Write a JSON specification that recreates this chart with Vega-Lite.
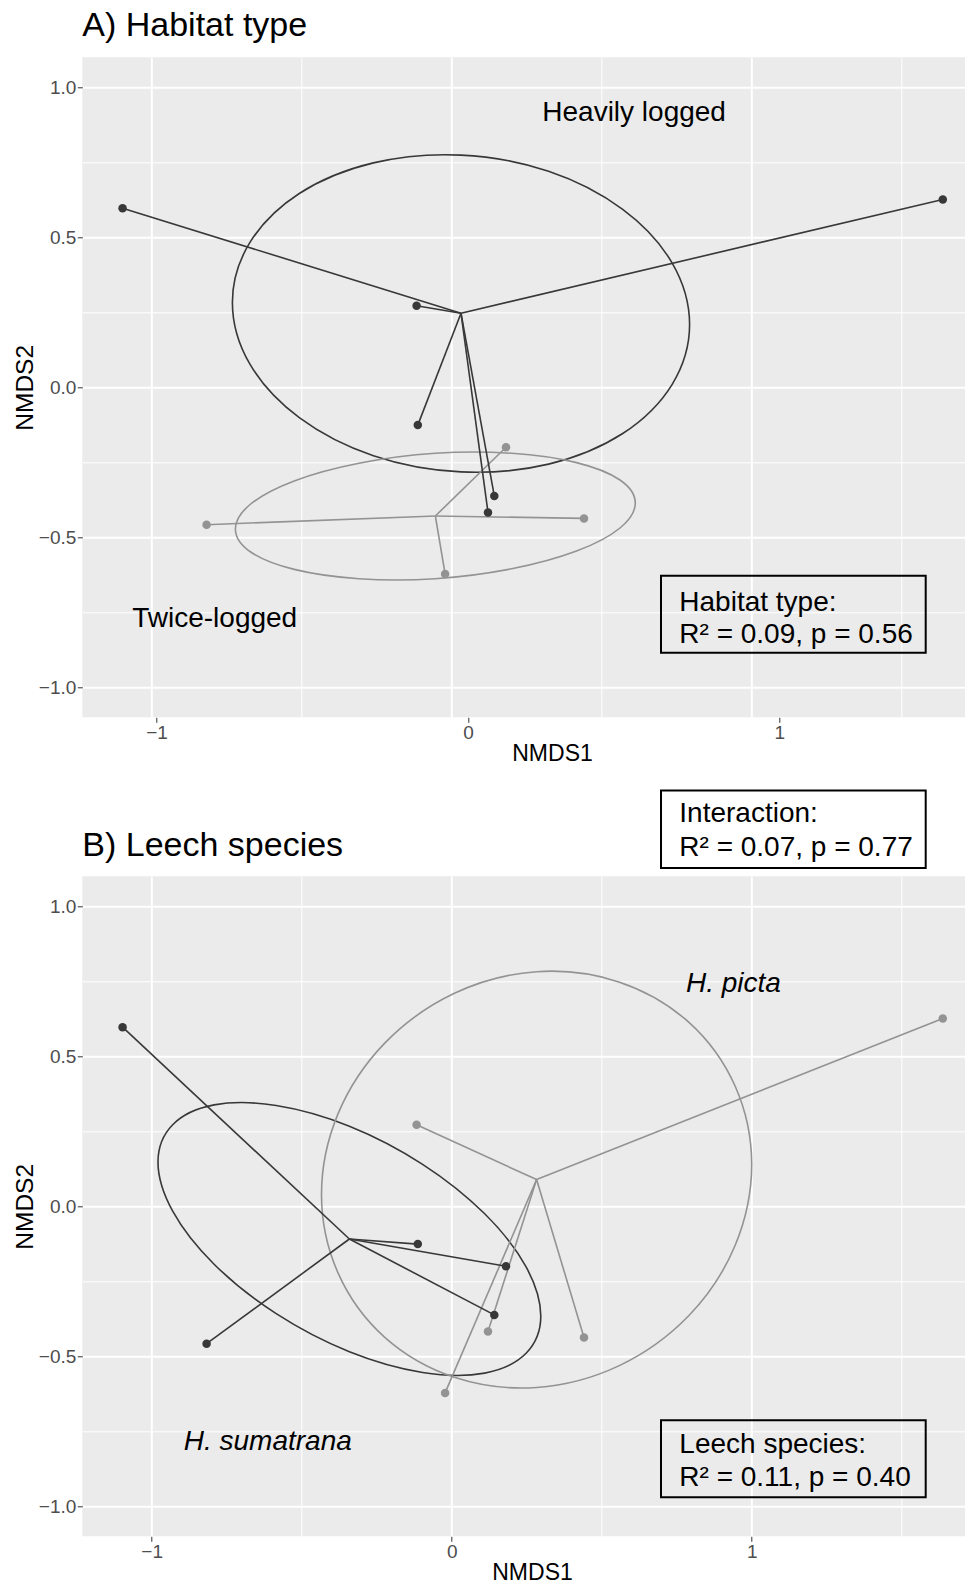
{
  "$schema": "https://vega.github.io/schema/vega-lite/v6.json",
  "autosize": {"type": "none"},
  "padding": {"left": 82.3, "top": 57.3, "right": 882.7, "bottom": 1524.7},
  "background": "#FFFFFF",
  "datasets": {
    "pts": [
      {"id": 1, "x": -1.097, "y": 0.597, "habitat": "Heavily logged", "species": "H. sumatrana"},
      {"id": 2, "x": -0.117, "y": 0.272, "habitat": "Heavily logged", "species": "H. picta"},
      {"id": 3, "x": 1.637, "y": 0.626, "habitat": "Heavily logged", "species": "H. picta"},
      {"id": 4, "x": -0.113, "y": -0.126, "habitat": "Heavily logged", "species": "H. sumatrana"},
      {"id": 5, "x": -0.817, "y": -0.458, "habitat": "Twice-logged", "species": "H. sumatrana"},
      {"id": 6, "x": -0.022, "y": -0.622, "habitat": "Twice-logged", "species": "H. picta"},
      {"id": 7, "x": 0.181, "y": -0.2, "habitat": "Twice-logged", "species": "H. sumatrana"},
      {"id": 8, "x": 0.142, "y": -0.362, "habitat": "Heavily logged", "species": "H. sumatrana"},
      {"id": 9, "x": 0.121, "y": -0.417, "habitat": "Heavily logged", "species": "H. picta"},
      {"id": 10, "x": 0.441, "y": -0.437, "habitat": "Twice-logged", "species": "H. picta"}
    ],
    "centA": [
      {"group": "Heavily logged", "cx": 0.031, "cy": 0.247},
      {"group": "Twice-logged", "cx": -0.0545, "cy": -0.429}
    ],
    "centB": [
      {"group": "H. sumatrana", "cx": -0.341, "cy": -0.109},
      {"group": "H. picta", "cx": 0.283, "cy": 0.089}
    ],
    "ellA": [
      {"group": "Heavily logged", "i": 0, "x": 0.793, "y": 0.209},
      {"group": "Heavily logged", "i": 1, "x": 0.735, "y": 0.414},
      {"group": "Heavily logged", "i": 2, "x": 0.57, "y": 0.593},
      {"group": "Heavily logged", "i": 3, "x": 0.323, "y": 0.72},
      {"group": "Heavily logged", "i": 4, "x": 0.031, "y": 0.774},
      {"group": "Heavily logged", "i": 5, "x": -0.261, "y": 0.748},
      {"group": "Heavily logged", "i": 6, "x": -0.508, "y": 0.646},
      {"group": "Heavily logged", "i": 7, "x": -0.673, "y": 0.482},
      {"group": "Heavily logged", "i": 8, "x": -0.731, "y": 0.283},
      {"group": "Heavily logged", "i": 9, "x": -0.673, "y": 0.078},
      {"group": "Heavily logged", "i": 10, "x": -0.508, "y": -0.101},
      {"group": "Heavily logged", "i": 11, "x": -0.261, "y": -0.228},
      {"group": "Heavily logged", "i": 12, "x": 0.031, "y": -0.282},
      {"group": "Heavily logged", "i": 13, "x": 0.323, "y": -0.256},
      {"group": "Heavily logged", "i": 14, "x": 0.57, "y": -0.154},
      {"group": "Heavily logged", "i": 15, "x": 0.735, "y": 0.01},
      {"group": "Twice-logged", "i": 0, "x": 0.612, "y": -0.386},
      {"group": "Twice-logged", "i": 1, "x": 0.561, "y": -0.309},
      {"group": "Twice-logged", "i": 2, "x": 0.416, "y": -0.251},
      {"group": "Twice-logged", "i": 3, "x": 0.2, "y": -0.22},
      {"group": "Twice-logged", "i": 4, "x": -0.055, "y": -0.22},
      {"group": "Twice-logged", "i": 5, "x": -0.309, "y": -0.253},
      {"group": "Twice-logged", "i": 6, "x": -0.525, "y": -0.312},
      {"group": "Twice-logged", "i": 7, "x": -0.67, "y": -0.389},
      {"group": "Twice-logged", "i": 8, "x": -0.721, "y": -0.472},
      {"group": "Twice-logged", "i": 9, "x": -0.67, "y": -0.549},
      {"group": "Twice-logged", "i": 10, "x": -0.525, "y": -0.607},
      {"group": "Twice-logged", "i": 11, "x": -0.309, "y": -0.638},
      {"group": "Twice-logged", "i": 12, "x": -0.055, "y": -0.638},
      {"group": "Twice-logged", "i": 13, "x": 0.2, "y": -0.605},
      {"group": "Twice-logged", "i": 14, "x": 0.416, "y": -0.546},
      {"group": "Twice-logged", "i": 15, "x": 0.561, "y": -0.469}
    ],
    "ellB": [
      {"group": "H. sumatrana", "i": 0, "x": 0.297, "y": -0.366},
      {"group": "H. sumatrana", "i": 1, "x": 0.248, "y": -0.202},
      {"group": "H. sumatrana", "i": 2, "x": 0.11, "y": -0.025},
      {"group": "H. sumatrana", "i": 3, "x": -0.097, "y": 0.14},
      {"group": "H. sumatrana", "i": 4, "x": -0.341, "y": 0.267},
      {"group": "H. sumatrana", "i": 5, "x": -0.585, "y": 0.336},
      {"group": "H. sumatrana", "i": 6, "x": -0.792, "y": 0.338},
      {"group": "H. sumatrana", "i": 7, "x": -0.93, "y": 0.272},
      {"group": "H. sumatrana", "i": 8, "x": -0.979, "y": 0.148},
      {"group": "H. sumatrana", "i": 9, "x": -0.93, "y": -0.016},
      {"group": "H. sumatrana", "i": 10, "x": -0.792, "y": -0.193},
      {"group": "H. sumatrana", "i": 11, "x": -0.585, "y": -0.358},
      {"group": "H. sumatrana", "i": 12, "x": -0.341, "y": -0.485},
      {"group": "H. sumatrana", "i": 13, "x": -0.097, "y": -0.554},
      {"group": "H. sumatrana", "i": 14, "x": 0.11, "y": -0.556},
      {"group": "H. sumatrana", "i": 15, "x": 0.248, "y": -0.49},
      {"group": "H. picta", "i": 0, "x": 1.0, "y": 0.139},
      {"group": "H. picta", "i": 1, "x": 0.945, "y": 0.4},
      {"group": "H. picta", "i": 2, "x": 0.79, "y": 0.614},
      {"group": "H. picta", "i": 3, "x": 0.557, "y": 0.748},
      {"group": "H. picta", "i": 4, "x": 0.283, "y": 0.782},
      {"group": "H. picta", "i": 5, "x": 0.009, "y": 0.71},
      {"group": "H. picta", "i": 6, "x": -0.224, "y": 0.543},
      {"group": "H. picta", "i": 7, "x": -0.379, "y": 0.308},
      {"group": "H. picta", "i": 8, "x": -0.434, "y": 0.039},
      {"group": "H. picta", "i": 9, "x": -0.379, "y": -0.222},
      {"group": "H. picta", "i": 10, "x": -0.224, "y": -0.436},
      {"group": "H. picta", "i": 11, "x": 0.009, "y": -0.57},
      {"group": "H. picta", "i": 12, "x": 0.283, "y": -0.604},
      {"group": "H. picta", "i": 13, "x": 0.557, "y": -0.532},
      {"group": "H. picta", "i": 14, "x": 0.79, "y": -0.365},
      {"group": "H. picta", "i": 15, "x": 0.945, "y": -0.13}
    ],
    "labA": [
      {"text": "Heavily logged", "x": 0.608, "y": 0.887},
      {"text": "Twice-logged", "x": -0.79, "y": -0.798}
    ],
    "labB": [
      {"text": "H. picta", "x": 0.939, "y": 0.714},
      {"text": "H. sumatrana", "x": -0.613, "y": -0.811}
    ],
    "boxA": [
      {"x": 0.6977, "x2": 1.58, "y": -0.628, "y2": -0.885},
      {"x": 0.6977, "x2": 1.58, "y": -1.344, "y2": -1.602}
    ],
    "boxTextA": [
      {"text": "Habitat type:", "x": 0.7587, "y": -0.744},
      {"text": "R² = 0.09, p = 0.56", "x": 0.7587, "y": -0.852},
      {"text": "Interaction:", "x": 0.7587, "y": -1.45},
      {"text": "R² = 0.07, p = 0.77", "x": 0.7587, "y": -1.561}
    ],
    "boxB": [
      {"x": 0.6977, "x2": 1.58, "y": -0.713, "y2": -0.97}
    ],
    "boxTextB": [
      {"text": "Leech species:", "x": 0.7587, "y": -0.822},
      {"text": "R² = 0.11, p = 0.40", "x": 0.7587, "y": -0.933}
    ]
  },
  "vconcat": [
    {
      "title": {"text": "A) Habitat type", "offset": 14.6, "fontSize": 34},
      "width": 883,
      "height": 660,
      "layer": [
        {
          "encoding": {
            "x": {
              "field": "x", "type": "quantitative",
              "scale": {"domain": [-1.2313, 1.712], "nice": false, "zero": false},
              "axis": {
                "orient": "bottom", "title": null, "labels": false, "ticks": false, "domain": false,
                "values": [-1, -0.5, 0, 0.5, 1, 1.5],
                "gridColor": "#FFFFFF",
                "gridWidth": {"condition": {"test": "datum.value % 1 == 0", "value": 2}, "value": 1}
              }
            },
            "y": {
              "field": "y", "type": "quantitative",
              "scale": {"domain": [-1.1, 1.1], "nice": false, "zero": false},
              "axis": {
                "title": "NMDS2", "titleFontSize": 24.5, "titleX": -50,
                "values": [-1, -0.75, -0.5, -0.25, 0, 0.25, 0.5, 0.75, 1],
                "labelExpr": "(datum.value * 2) % 1 == 0 ? format(datum.value, '.1f') : ''",
                "labelFontSize": 19, "labelPadding": 1.5,
                "gridColor": "#FFFFFF",
                "gridWidth": {"condition": {"test": "(datum.value * 2) % 1 == 0", "value": 2}, "value": 1},
                "tickOpacity": {"condition": {"test": "(datum.value * 2) % 1 == 0", "value": 1}, "value": 0}
              }
            }
          },
          "layer": [
            {
              "data": {"name": "ellA"},
              "mark": {"type": "line", "interpolate": "cardinal-closed", "strokeWidth": 1.6},
              "encoding": {
                "order": {"field": "i", "type": "quantitative"},
                "color": {"field": "group", "type": "nominal", "legend": null,
                  "scale": {"domain": ["Heavily logged", "Twice-logged"], "range": ["#383838", "#939393"]}}
              }
            },
            {
              "data": {"name": "pts"},
              "transform": [
                {"lookup": "habitat", "from": {"data": {"name": "centA"}, "key": "group", "fields": ["cx", "cy"]}}
              ],
              "mark": {"type": "rule", "strokeWidth": 1.6},
              "encoding": {
                "x2": {"field": "cx"},
                "y2": {"field": "cy"},
                "color": {"field": "habitat", "type": "nominal", "legend": null}
              }
            },
            {
              "data": {"name": "pts"},
              "mark": {"type": "circle", "size": 72, "opacity": 1},
              "encoding": {
                "color": {"field": "habitat", "type": "nominal", "legend": null}
              }
            },
            {
              "data": {"name": "labA"},
              "mark": {"type": "text", "fontSize": 28, "align": "center", "baseline": "alphabetic", "color": "#000000"},
              "encoding": {"text": {"field": "text"}}
            },
            {
              "data": {"name": "boxA"},
              "mark": {"type": "rect", "fill": "#FFFFFF", "fillOpacity": 0, "stroke": "#000000", "strokeWidth": 2, "clip": false},
              "encoding": {"x2": {"field": "x2"}, "y2": {"field": "y2"}}
            },
            {
              "data": {"name": "boxTextA"},
              "mark": {"type": "text", "fontSize": 28, "align": "left", "baseline": "alphabetic", "color": "#000000", "clip": false},
              "encoding": {"text": {"field": "text"}}
            }
          ]
        },
        {
          "data": {"values": [{"v": -1}, {"v": 0}, {"v": 1}]},
          "mark": {"type": "point", "opacity": 0},
          "encoding": {
            "x": {
              "field": "v", "type": "quantitative",
              "scale": {"domain": [-1.2384, 1.5972], "nice": false, "zero": false},
              "axis": {
                "orient": "bottom", "grid": false, "values": [-1, 0, 1], "format": "d",
                "title": "NMDS1", "titleX": 469.7, "titleY": 43.3,
                "labelFontSize": 19, "labelPadding": 1.5
              }
            }
          }
        }
      ],
      "resolve": {"scale": {"x": "independent"}, "axis": {"x": "independent"}}
    },
    {
      "title": {"text": "B) Leech species", "offset": 13.4, "fontSize": 34},
      "width": 883,
      "height": 660,
      "encoding": {
        "x": {
          "field": "x", "type": "quantitative",
          "scale": {"domain": [-1.2313, 1.712], "nice": false, "zero": false},
          "axis": {
            "orient": "bottom", "title": "NMDS1", "titleX": 449.7, "titleY": 43.3,
            "values": [-1, -0.5, 0, 0.5, 1, 1.5],
            "labelExpr": "datum.value % 1 == 0 ? format(datum.value, 'd') : ''",
            "labelFontSize": 19, "labelPadding": 1.5,
            "gridColor": "#FFFFFF",
            "gridWidth": {"condition": {"test": "datum.value % 1 == 0", "value": 2}, "value": 1},
            "tickOpacity": {"condition": {"test": "datum.value % 1 == 0", "value": 1}, "value": 0}
          }
        },
        "y": {
          "field": "y", "type": "quantitative",
          "scale": {"domain": [-1.1, 1.1], "nice": false, "zero": false},
          "axis": {
            "title": "NMDS2", "titleFontSize": 24.5, "titleX": -50,
            "values": [-1, -0.75, -0.5, -0.25, 0, 0.25, 0.5, 0.75, 1],
            "labelExpr": "(datum.value * 2) % 1 == 0 ? format(datum.value, '.1f') : ''",
            "labelFontSize": 19, "labelPadding": 1.5,
            "gridColor": "#FFFFFF",
            "gridWidth": {"condition": {"test": "(datum.value * 2) % 1 == 0", "value": 2}, "value": 1},
            "tickOpacity": {"condition": {"test": "(datum.value * 2) % 1 == 0", "value": 1}, "value": 0}
          }
        }
      },
      "layer": [
        {
          "data": {"name": "ellB"},
          "mark": {"type": "line", "interpolate": "cardinal-closed", "strokeWidth": 1.6},
          "encoding": {
            "order": {"field": "i", "type": "quantitative"},
            "color": {"field": "group", "type": "nominal", "legend": null,
              "scale": {"domain": ["H. sumatrana", "H. picta"], "range": ["#383838", "#939393"]}}
          }
        },
        {
          "data": {"name": "pts"},
          "transform": [
            {"lookup": "species", "from": {"data": {"name": "centB"}, "key": "group", "fields": ["cx", "cy"]}}
          ],
          "mark": {"type": "rule", "strokeWidth": 1.6},
          "encoding": {
            "x2": {"field": "cx"},
            "y2": {"field": "cy"},
            "color": {"field": "species", "type": "nominal", "legend": null}
          }
        },
        {
          "data": {"name": "pts"},
          "mark": {"type": "circle", "size": 72, "opacity": 1},
          "encoding": {
            "color": {"field": "species", "type": "nominal", "legend": null}
          }
        },
        {
          "data": {"name": "labB"},
          "mark": {"type": "text", "fontSize": 28, "fontStyle": "italic", "align": "center", "baseline": "alphabetic", "color": "#000000"},
          "encoding": {"text": {"field": "text"}}
        },
        {
          "data": {"name": "boxB"},
          "mark": {"type": "rect", "fill": "#FFFFFF", "fillOpacity": 0, "stroke": "#000000", "strokeWidth": 2},
          "encoding": {"x2": {"field": "x2"}, "y2": {"field": "y2"}}
        },
        {
          "data": {"name": "boxTextB"},
          "mark": {"type": "text", "fontSize": 28, "align": "left", "baseline": "alphabetic", "color": "#000000"},
          "encoding": {"text": {"field": "text"}}
        }
      ]
    }
  ],
  "spacing": 159,
  "bounds": "flush",
  "resolve": {"scale": {"color": "independent"}},
  "config": {
    "font": "Liberation Sans",
    "view": {"fill": "#EBEBEB", "stroke": null},
    "axis": {
      "domain": false,
      "tickColor": "#333333",
      "tickSize": 5,
      "tickWidth": 1,
      "labelColor": "#4D4D4D",
      "labelFont": "Liberation Sans",
      "labelOverlap": false,
      "titleFont": "Liberation Sans",
      "titleFontSize": 23,
      "titleFontWeight": "normal",
      "titleColor": "#000000",
      "titleBaseline": "alphabetic"
    },
    "title": {
      "font": "Liberation Sans",
      "fontWeight": "normal",
      "color": "#000000",
      "anchor": "start",
      "frame": "group",
      "baseline": "alphabetic"
    }
  }
}
